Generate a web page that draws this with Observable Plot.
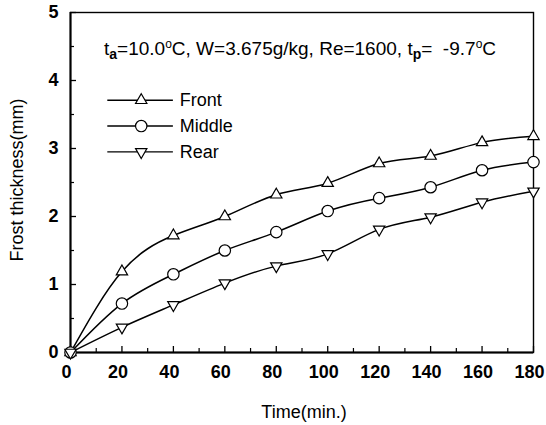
<!DOCTYPE html>
<html><head><meta charset="utf-8">
<script src="https://cdn.jsdelivr.net/npm/d3@7"></script>
<script src="https://cdn.jsdelivr.net/npm/@observablehq/plot@0.6"></script>
<style>
body{margin:0;background:#fff}
svg{font-family:"Liberation Sans",Arial,sans-serif}
</style>
</head><body><div id="chart"></div>
<script>
// Frost thickness measured at three positions over time
const time = [0, 20, 40, 60, 80, 100, 120, 140, 160, 180];
const front = [0, 1.19, 1.72, 2.0, 2.32, 2.49, 2.78, 2.89, 3.09, 3.18];
const middle = [0, 0.72, 1.15, 1.50, 1.77, 2.08, 2.27, 2.43, 2.68, 2.80];
const rear = [0, 0.37, 0.70, 1.02, 1.27, 1.45, 1.81, 1.99, 2.21, 2.37];
const seriesNames = ["Front", "Middle", "Rear"];
const xTicks = [0, 20, 40, 60, 80, 100, 120, 140, 160, 180];
const xMinorTicks = [10, 30, 50, 70, 90, 110, 130, 150, 170];
const yTicks = [0, 1, 2, 3, 4, 5];
const yMinorTicks = [0.5, 1.5, 2.5, 3.5, 4.5];
const xTitle = "Time(min.)";
const yTitle = "Frost thickness(mm)";

// downward-pointing triangle with the same geometry as d3.symbolTriangle
const sqrt3 = Math.sqrt(3);
const triangleDown = {
  draw(context, size) {
    const y = -Math.sqrt(size / (sqrt3 * 3));
    context.moveTo(0, -y * 2);
    context.lineTo(-sqrt3 * y, y);
    context.lineTo(sqrt3 * y, y);
    context.closePath();
  }
};
const symbols = {Front: "triangle", Middle: "circle", Rear: triangleDown};
const radii = {Front: 4.2, Middle: 5.7, Rear: 4.2};

const valuesBySeries = {Front: front, Middle: middle, Rear: rear};
const rows = seriesNames.flatMap(s => time.map((t, i) => ({series: s, t, v: valuesBySeries[s][i]})));

// legend rows placed inside the plot area
const legendY = {Front: 3.71, Middle: 3.33, Rear: 2.95};
const legend = seriesNames.map(s => ({series: s, y: legendY[s]}));

const marks = [
  Plot.frame({stroke: "black", strokeWidth: 1.4}),
  Plot.ruleX([0], {stroke: "black", strokeWidth: 2}),
  Plot.ruleY([0], {stroke: "black", strokeWidth: 2}),
  // inward ticks
  Plot.axisX(xTicks, {tickSize: -6, text: null, label: null, strokeWidth: 1.3}),
  Plot.axisX(xMinorTicks, {tickSize: -4, text: null, label: null, strokeWidth: 1.2}),
  Plot.axisX(xTicks, {tickSize: 0, tickPadding: 13, dx: -4, label: null, tickFormat: d => String(d), fontSize: 18, fontWeight: "bold", fill: "black"}),
  Plot.axisY(yTicks, {tickSize: -6, text: null, label: null, strokeWidth: 1.3}),
  Plot.axisY(yMinorTicks, {tickSize: -4, text: null, label: null, strokeWidth: 1.2}),
  Plot.axisY(yTicks, {tickSize: 0, tickPadding: 12, label: null, tickFormat: d => String(d), fontSize: 18, fontWeight: "bold", fill: "black"}),
  // data curves and markers
  ...seriesNames.map(s => Plot.line(rows.filter(d => d.series === s), {x: "t", y: "v", curve: "natural", stroke: "black", strokeWidth: 1.5})),
  ...seriesNames.map(s => Plot.dot(rows.filter(d => d.series === s), {x: "t", y: "v", symbol: symbols[s], r: radii[s], fill: "white", stroke: "black", strokeWidth: 1.2})),
  // legend
  Plot.ruleY(legend, {y: "y", x1: 14.5, x2: 40, stroke: "black", strokeWidth: 1.4}),
  ...seriesNames.map(s => Plot.dot(legend.filter(d => d.series === s), {x: 27.5, y: "y", symbol: symbols[s], r: radii[s], fill: "white", stroke: "black", strokeWidth: 1.2})),
  Plot.text(legend, {x: 42.5, y: "y", text: "series", textAnchor: "start", fontSize: 18, fill: "black"})
];

const plot = Plot.plot({
  width: 546,
  height: 425,
  marginLeft: 70,
  marginRight: 13,
  marginTop: 12,
  marginBottom: 73,
  x: {domain: [0, 180], axis: null, label: null},
  y: {domain: [0, 5], axis: null, label: null},
  style: {fontFamily: '"Liberation Sans", Arial, sans-serif', background: "white", overflow: "visible"},
  marks
});

const svg = d3.select(plot);

// axis titles
svg.append("text")
  .attr("x", 304).attr("y", 418)
  .attr("text-anchor", "middle").attr("font-size", 18).attr("fill", "black")
  .text(xTitle);
svg.append("text")
  .attr("transform", "translate(23,180) rotate(-90)")
  .attr("text-anchor", "middle").attr("font-size", 18).attr("fill", "black")
  .text(yTitle);

// condition annotation with sub/superscripts
const note = svg.append("text")
  .attr("x", 104).attr("y", 55)
  .attr("text-anchor", "start")
  .attr("font-size", 19).attr("fill", "black");
const part = (txt, opts = {}) => {
  const t = note.append("tspan").text(txt);
  if (opts.shift) t.attr("dy", opts.shift);
  if (opts.size) t.attr("font-size", opts.size);
  if (opts.bold) t.attr("font-weight", "bold");
  return t;
};
part("t");
part("a", {shift: 4, size: 14, bold: true});
part("=10.0", {shift: -4});
part("o", {shift: -7, size: 12});
part("C, W=3.675g/kg, Re=1600, t", {shift: 7});
part("p", {shift: 4, size: 14, bold: true});
part("=  -9.7", {shift: -4});
part("o", {shift: -7, size: 12});
part("C", {shift: 7});

document.getElementById("chart").append(plot);
</script>
</body></html>
